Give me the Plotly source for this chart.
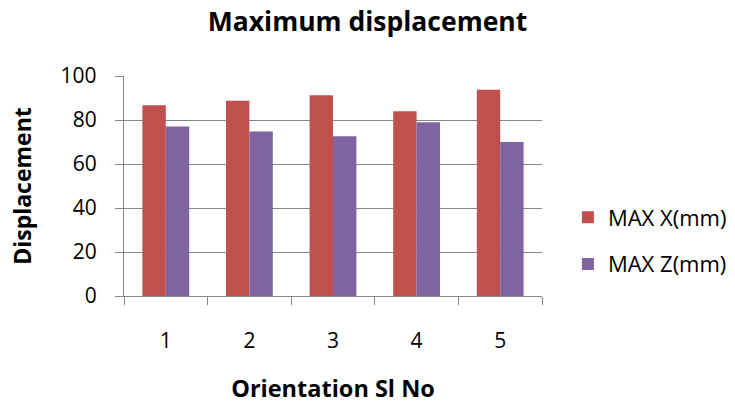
import plotly.graph_objects as go

# Orientation serial numbers and measured maximum displacements
orientations = ["1", "2", "3", "4", "5"]
max_x_mm = [86.7, 88.8, 91.2, 84.0, 93.8]
max_z_mm = [77.0, 74.8, 72.6, 79.0, 70.0]
y_ticks = [0, 20, 40, 60, 80, 100]

FONT = "Open Sans, sans-serif"
GRID = "#868686"

fig = go.Figure()
fig.add_trace(go.Bar(x=orientations, y=max_x_mm, name="MAX X(mm)",
                     legendgroup="x",
                     marker=dict(color="#C0504D", line=dict(width=0))))
fig.add_trace(go.Bar(x=orientations, y=max_z_mm, name="MAX Z(mm)",
                     legendgroup="z",
                     marker=dict(color="#8064A2", line=dict(width=0))))

fig.update_layout(
    width=735, height=404,
    margin=dict(l=124, r=193, t=76, b=108, autoexpand=False),
    paper_bgcolor="white", plot_bgcolor="white",
    font=dict(family=FONT, color="black", size=21),
    barmode="group", bargap=0.44, bargroupgap=0,
    title=dict(text="<b>Maximum displacement</b>", x=0.5, xanchor="center",
               y=0.945, yanchor="middle", font=dict(size=26.5, family=FONT)),
    showlegend=True,
    legend=dict(x=1.062, y=0.25, xanchor="left", yanchor="middle",
                font=dict(size=22, family=FONT), tracegroupgap=15,
                itemsizing="constant", itemwidth=30),
    xaxis=dict(
        type="category", showline=True, linecolor=GRID, linewidth=1.3,
        ticks="outside", tickson="boundaries", ticklen=8, tickcolor=GRID,
        tickwidth=1.3, showgrid=False, ticklabelstandoff=26,
        tickfont=dict(size=21),
        title=dict(text="<b>Orientation Sl No</b>", font=dict(size=23.5),
                   standoff=28),
    ),
    yaxis=dict(
        range=[0, 100], tickvals=y_ticks, showline=True, linecolor=GRID,
        linewidth=1.3, ticks="outside", ticklen=8, tickcolor=GRID,
        tickwidth=1.3, showgrid=True, gridcolor=GRID, gridwidth=1.3,
        zeroline=False, tickfont=dict(size=21), ticklabelstandoff=14,
        title=dict(text="<b>Displacement</b>", font=dict(size=23), standoff=22),
    ),
)

fig.write_html("out.html")
